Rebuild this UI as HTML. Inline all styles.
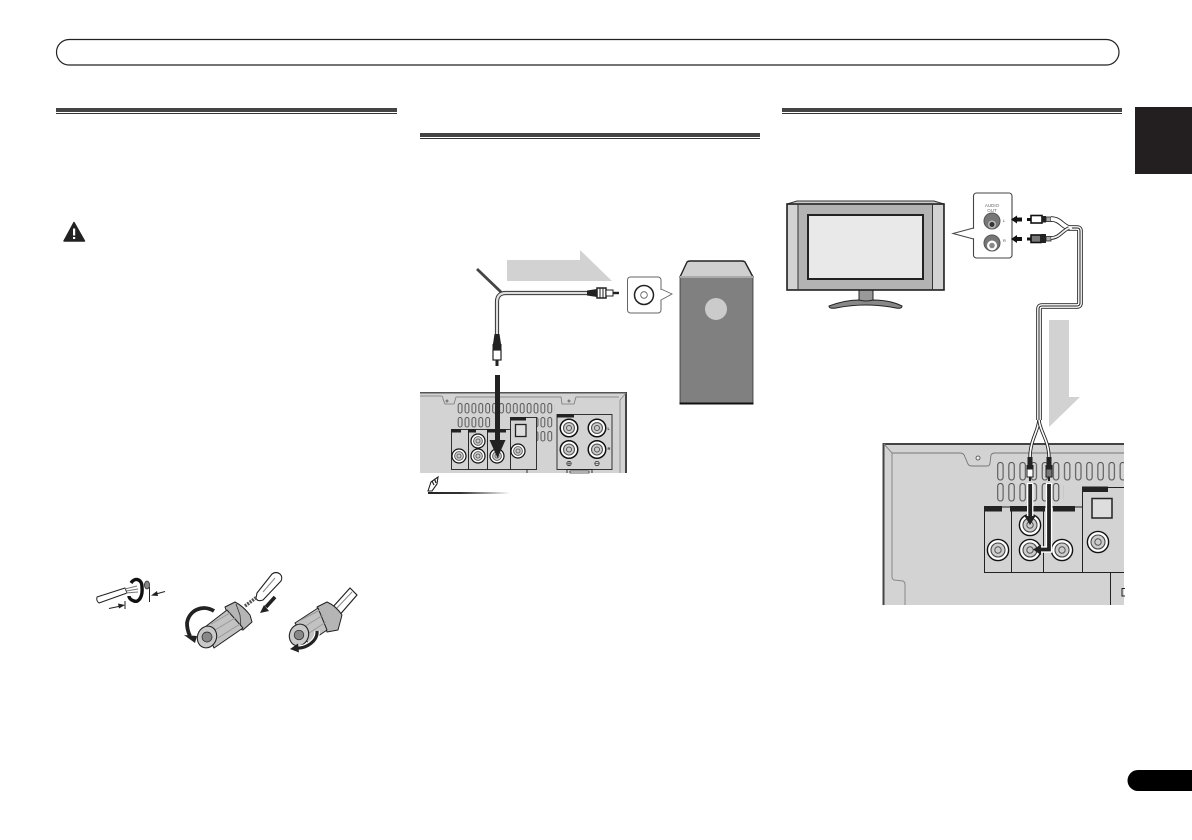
<!DOCTYPE html>
<html><head><meta charset="utf-8"><style>
html,body{margin:0;padding:0;background:#fff;width:1192px;height:840px;overflow:hidden}
svg{display:block}
text{font-family:"Liberation Sans",sans-serif}
</style></head><body>
<svg width="1192" height="840" viewBox="0 0 1192 840" xmlns="http://www.w3.org/2000/svg">
<defs>
<pattern id="s1" x="457.5" y="403" width="6.9" height="14" patternUnits="userSpaceOnUse"><rect x=".7" y=".5" width="3.8" height="9.5" rx="1.9" fill="none" stroke="#555" stroke-width="1"/></pattern>
<pattern id="s2" x="997" y="462" width="11.13" height="21" patternUnits="userSpaceOnUse"><rect x=".7" y=".5" width="5.4" height="17.5" rx="2.7" fill="none" stroke="#555" stroke-width="1.100"/></pattern>
<linearGradient id="g" x1="0" x2="1" y1="0" y2="0"><stop offset="0" stop-color="#222"/><stop offset=".4" stop-color="#333"/><stop offset="1" stop-color="#fff"/></linearGradient>
<g id="j"><circle r="7" fill="#fff" stroke="#111" stroke-width="1.200"/><circle r="4.400" fill="#ccc" stroke="#555" stroke-width=".9"/><circle r="2" fill="none" stroke="#555" stroke-width=".8"/></g>
<g id="J"><circle r="10.600" fill="#fff" stroke="#111" stroke-width="1.400"/><circle r="7" fill="#ccc" stroke="#444" stroke-width="1.100"/><circle r="3.200" fill="none" stroke="#555" stroke-width="1"/></g>
</defs>

<!-- header -->
<rect x="56.500" y="39.500" width="1062.500" height="25.500" rx="12.700" fill="#fff" stroke="#222" stroke-width="1.200"/>
<!-- section rules -->
<rect x="56" y="108" width="341" height="4" fill="#444"/><rect x="56" y="113" width="341" height="1" fill="#333"/>
<rect x="420" y="133" width="340" height="4" fill="#444"/><rect x="420" y="138" width="340" height="1" fill="#333"/>
<rect x="782" y="108" width="340" height="4" fill="#444"/><rect x="782" y="113" width="340" height="1" fill="#333"/>
<!-- side tab and page pill -->
<rect x="1135" y="107" width="57" height="67" fill="#231f20"/>
<path d="M1192 770H1138a10.500 10.500 0 0 0 0 21H1192Z" fill="#000"/>

<!-- warning -->
<path d="M74 222.500 L84.500 241 H64 Z" fill="#222" stroke="#222" stroke-width="1.400" stroke-linejoin="round"/>
<rect x="73" y="228.500" width="2.200" height="7" fill="#fff"/><rect x="73" y="237" width="2.200" height="2" fill="#fff"/>

<!-- MIDDLE: gray arrow -->
<polygon points="507,260 580,260 580,250 612,281 507,281" fill="#d2d2d2"/>
<!-- cable -->
<path d="M477 269 L502 293" stroke="#444" stroke-width="2.800"/>
<path d="M497 334 V302 Q497 293 506 293 H587" fill="none" stroke="#333" stroke-width="4.200"/>
<path d="M497 334 V302 Q497 293 506 293 H587" fill="none" stroke="#ddd" stroke-width="2.200"/>
<!-- right plug -->
<path d="M587 290.500 L597 289 V297 L587 295.500Z" fill="#222"/>
<rect x="597" y="288" width="9" height="10" fill="#fff" stroke="#222" stroke-width="1.500"/>
<path d="M600 288V298M603 288V298" stroke="#222"/>
<path d="M606 290 H613 V296 H606Z" fill="#fff" stroke="#222"/>
<path d="M613 293 H619" stroke="#222" stroke-width="2.400"/>
<!-- down plug -->
<path d="M494.500 334 L493 344 H501 L499.500 334Z" fill="#222"/>
<rect x="492.500" y="344" width="9" height="6" fill="#222"/>
<rect x="493" y="350" width="8" height="10" fill="#fff" stroke="#222" stroke-width="1.200"/>
<rect x="495.500" y="360" width="3" height="6" fill="#222"/>
<!-- connector box -->
<rect x="627.500" y="277" width="33.500" height="36" rx="3" fill="#fff" stroke="#666" stroke-width="1"/>
<circle cx="644" cy="295" r="9.500" fill="#fff" stroke="#222" stroke-width="1.500"/>
<circle cx="644" cy="295" r="3.300" fill="#fff" stroke="#555" stroke-width=".8"/>
<path d="M661 289 L672 294 L661 300" fill="#fff" stroke="#666" stroke-width=".9"/>
<rect x="660" y="290" width="1.500" height="9.500" fill="#fff"/>
<!-- speaker -->
<path d="M680 277 L687 262 Q688 261 690 261 H742 Q744 261 745 262 L753 277Z" fill="#cfcfcf" stroke="#222" stroke-width="1.400" stroke-linejoin="round"/>
<rect x="680" y="277" width="73" height="127" fill="#808080" stroke="#333" stroke-width=".8"/>
<rect x="680" y="276" width="73" height="2" fill="#aaa"/>
<rect x="679.500" y="402.500" width="74" height="2" fill="#111"/>
<circle cx="716" cy="309" r="11" fill="#cbcbcb"/>

<!-- middle panel -->
<rect x="420" y="392" width="207" height="81" fill="#d3d3d3"/>
<rect x="420" y="392" width="206" height="1.500" fill="#555"/>
<rect x="625" y="392" width="2" height="81" fill="#444"/>
<path d="M620 473 V400 L626 393" fill="none" stroke="#888" stroke-width=".8"/>
<path d="M420 396 H441 Q443 396 443 399 L445 404 H454 L456 397 H561 L562 404 L574 404 L576 397 H619" fill="none" stroke="#777" stroke-width=".8"/>
<circle cx="447" cy="401" r="1" fill="none" stroke="#555" stroke-width=".7"/>
<circle cx="569" cy="401" r="1" fill="none" stroke="#555" stroke-width=".7"/>
<rect x="457.500" y="403" width="96.600" height="11" fill="url(#s1)"/>
<rect x="457.500" y="417" width="34.500" height="11" fill="url(#s1)"/>
<rect x="533" y="417" width="21" height="11" fill="url(#s1)"/>
<rect x="533" y="431" width="21" height="11" fill="url(#s1)"/>
<g fill="#d3d3d3" stroke="#222" stroke-width=".9">
<rect x="451.500" y="429.500" width="17" height="40"/>
<rect x="468.500" y="429.500" width="19" height="40"/>
<rect x="487.500" y="429.500" width="23" height="40"/>
<rect x="510.500" y="417.500" width="26" height="52"/>
<rect x="557" y="414.500" width="55" height="55"/>
</g>
<g fill="#222">
<rect x="451" y="429" width="10" height="3.500"/><rect x="468" y="429" width="8" height="3.500"/><rect x="487" y="429" width="19" height="3.500"/>
<rect x="510" y="417" width="16" height="3.500"/><rect x="557" y="414" width="17" height="3.500"/>
</g>
<use href="#j" x="459" y="456"/><use href="#j" x="478" y="441"/><use href="#j" x="478" y="456"/>
<use href="#j" x="497" y="456"/><use href="#j" x="518" y="451"/>
<rect x="515.500" y="424.500" width="10.500" height="12" fill="#ddd" stroke="#222" stroke-width="1.300"/>
<g transform="translate(569,428) scale(1.250)"><use href="#j"/></g>
<g transform="translate(597,428) scale(1.250)"><use href="#j"/></g>
<g transform="translate(569,449.500) scale(1.250)"><use href="#j"/></g>
<g transform="translate(597,449.500) scale(1.250)"><use href="#j"/></g>
<circle cx="569" cy="463.500" r="2.200" fill="none" stroke="#333" stroke-width=".8"/><path d="M567 463.500h4M569 461.500v4" stroke="#333" stroke-width=".6"/>
<circle cx="597" cy="463.500" r="2.200" fill="none" stroke="#333" stroke-width=".8"/><path d="M595 463.500h4" stroke="#333" stroke-width=".6"/>
<text x="607.500" y="430" font-size="4" font-weight="bold" fill="#222">L</text>
<text x="607.500" y="450" font-size="4" font-weight="bold" fill="#222">R</text>
<path d="M527 469.500 V473 M567 473 V469.500 H592 V473" fill="none" stroke="#222" stroke-width=".9"/>
<rect x="570" y="471" width="19" height="2" fill="#fff" stroke="#222" stroke-width=".7"/>
<!-- middle arrow -->
<rect x="495" y="375" width="5" height="66" fill="#222"/>
<polygon points="489.500,440 505.500,440 497.500,458" fill="#222"/>
<!-- note icon -->
<path d="M428 491 L431 482 L438 477 L437 484 L432 491Z" fill="#fff" stroke="#222" stroke-width="1.100"/>
<path d="M432 481 l2 4 M434.500 479 l1.500 4" stroke="#222" stroke-width="1.200"/>
<rect x="428" y="492" width="82" height="2" fill="url(#g)"/>

<!-- TV -->
<polygon points="787,204 797,201 934,201 944,204" fill="#ccc" stroke="#333" stroke-width="1"/>
<path d="M859 290 V301 Q866 303 873 301 V290Z" fill="#999" stroke="#222" stroke-width="1"/>
<path d="M829 306 Q845 300 859 300 Q866 302 873 300 Q890 300 902 306 Q902 309 896 308 Q866 302 836 308 Q829 309 829 306Z" fill="#888" stroke="#222" stroke-width="1"/>
<rect x="787" y="204" width="157" height="86" fill="#b3b3b3" stroke="#222" stroke-width="1.600"/>
<rect x="788" y="205" width="10" height="84" fill="#d2d2d2"/><rect x="933" y="205" width="10" height="84" fill="#d2d2d2"/>
<path d="M798 204V290M932.500 204V290" stroke="#333" stroke-width="1"/>
<rect x="808" y="215" width="115" height="64" fill="#e9e9e9" stroke="#222" stroke-width="2"/>
<!-- TV connector box -->
<rect x="973.500" y="193" width="38.500" height="65" rx="3" fill="#fff" stroke="#444" stroke-width="1.100"/>
<path d="M973.500 228 L953 233.500 L973.500 239" fill="#fff" stroke="#444" stroke-width="1"/>
<rect x="973" y="229" width="1.500" height="9" fill="#fff"/>
<text x="992" y="207" font-size="4.500" text-anchor="middle" fill="#666">AUDIO</text>
<text x="992" y="212" font-size="4.500" text-anchor="middle" fill="#666">OUT</text>
<circle cx="992" cy="221" r="8" fill="#777" stroke="#555"/><circle cx="992" cy="224.500" r="4" fill="#bbb"/><circle cx="992" cy="224.500" r="2.500" fill="#333"/>
<circle cx="992" cy="243" r="8" fill="#777" stroke="#555"/><circle cx="992" cy="245.500" r="5" fill="#fff"/><circle cx="992" cy="245.500" r="2.800" fill="#888"/>
<text x="1003" y="222" font-size="4" fill="#444">L</text>
<text x="1003" y="242" font-size="4" fill="#444">R</text>
<!-- small arrows -->
<g fill="#111">
<polygon points="1011,219.500 1017,215.500 1017,217.500 1022,217.500 1022,221.500 1017,221.500 1017,223.500"/>
<polygon points="1011,239 1017,235 1017,237 1022,237 1022,241 1017,241 1017,243"/>
<rect x="1027" y="218" width="4" height="3"/><rect x="1027" y="237.500" width="4" height="3"/>
</g>
<!-- plugs -->
<rect x="1031" y="215.500" width="11" height="7.500" fill="#fff" stroke="#111" stroke-width="1.600"/>
<rect x="1042" y="216" width="4" height="6.500" fill="#222"/>
<rect x="1046" y="217" width="5" height="4.500" fill="#aaa" stroke="#222" stroke-width=".8"/>
<rect x="1031" y="235" width="10" height="7.500" fill="#777" stroke="#111" stroke-width="1.600"/>
<rect x="1041" y="234" width="5" height="9" fill="#222"/>
<rect x="1046" y="236.500" width="5" height="4.500" fill="#aaa" stroke="#222" stroke-width=".8"/>
<!-- gray arrow down -->
<polygon points="1049,320 1069,320 1069,397 1080,397 1049,427" fill="#d2d2d2"/>

<!-- right panel -->
<rect x="882.500" y="443" width="241.500" height="162" fill="#d3d3d3"/>
<rect x="882.500" y="443" width="241.500" height="2" fill="#444"/>
<rect x="882.500" y="443" width="2" height="162" fill="#444"/>
<path d="M884 444 L892 453 V577 Q892 579 894 580 L903 581 Q905 582 905 585 V605" fill="none" stroke="#888" stroke-width="1"/>
<path d="M892 453 H960 Q964 453 965 457 L968 464 Q969 466 972 466 H987 Q990 466 990 463 L991 455 Q992 453 995 453 H1124" fill="none" stroke="#777" stroke-width=".9"/>
<circle cx="978" cy="458" r="2" fill="#eee" stroke="#444" stroke-width=".8"/>
<rect x="997" y="462" width="127" height="19" fill="url(#s2)"/>
<rect x="997" y="483" width="66.800" height="19" fill="url(#s2)"/>
<g fill="#d3d3d3" stroke="#222" stroke-width="1">
<rect x="984.500" y="507" width="27" height="65.500"/>
<rect x="1011.500" y="507" width="32" height="65.500"/>
<rect x="1043.500" y="507" width="39" height="65.500"/>
<path d="M1124 487.500 H1082.500 V572.500 H1124"/>
</g>
<path d="M1082 572.500H1124" stroke="#222"/>
<path d="M1110.500 572.500V605" stroke="#222"/>
<g fill="#222">
<rect x="984" y="506" width="18" height="5.500"/><rect x="1010" y="506" width="35" height="5.500"/><rect x="1053" y="506" width="22" height="5.500"/>
<rect x="1082" y="486.500" width="26" height="5.500"/>
</g>
<rect x="1092" y="498.500" width="20" height="19.500" fill="#ddd" stroke="#222" stroke-width="1.500"/>
<path d="M1125 588.500H1122V596H1125" fill="none" stroke="#222" stroke-width="1"/>
<use href="#J" x="998" y="550"/><use href="#J" x="1030" y="525"/><use href="#J" x="1030" y="550"/>
<use href="#J" x="1062" y="550"/><use href="#J" x="1098" y="542"/>

<!-- long cable -->
<g fill="none" stroke-linejoin="round">
<path d="M1051 219 C1060 219 1062 226 1069 228 H1077 Q1080 228 1080 231 V303 Q1080 306 1077 306 H1042 Q1039 306 1039 309 V420" stroke="#222" stroke-width="5.600"/>
<path d="M1051 219 C1060 219 1062 226 1069 228 H1077 Q1080 228 1080 231 V303 Q1080 306 1077 306 H1042 Q1039 306 1039 309 V420" stroke="#fff" stroke-width="3.800"/>
<path d="M1072 228 H1077 Q1080 228 1080 231 V303 Q1080 306 1077 306 H1042 Q1039 306 1039 309 V420" stroke="#222" stroke-width="1"/>
<path d="M1051 238 C1059 238 1062 231 1069 228" stroke="#222" stroke-width="3.600"/>
<path d="M1051 238 C1059 238 1062 231 1069 228" stroke="#eee" stroke-width="1.800"/>
<path d="M1039 420 C1038 432 1030 440 1030 458" stroke="#222" stroke-width="3.400"/>
<path d="M1039 420 C1038 432 1030 440 1030 458" stroke="#fff" stroke-width="1.600"/>
<path d="M1039 420 C1040 432 1049 440 1049 458" stroke="#222" stroke-width="3.400"/>
<path d="M1039 420 C1040 432 1049 440 1049 458" stroke="#fff" stroke-width="1.600"/>
</g>
<!-- panel plugs -->
<rect x="1027.500" y="457" width="5" height="8" fill="#222"/>
<rect x="1026.500" y="465" width="7" height="4" fill="#222"/>
<rect x="1027" y="469" width="6" height="8" fill="#fff" stroke="#222"/>
<rect x="1029" y="477" width="2" height="4" fill="#222"/>
<rect x="1046.500" y="457" width="5" height="8" fill="#222"/>
<rect x="1045.500" y="465" width="7" height="4" fill="#222"/>
<rect x="1046" y="469" width="6" height="8" fill="#777" stroke="#222"/>
<rect x="1048" y="477" width="2" height="4" fill="#222"/>
<!-- panel arrows -->
<rect x="1027" y="483" width="6.400" height="33" fill="#fff"/>
<rect x="1028.300" y="484" width="3.800" height="33" fill="#222"/>
<polygon points="1024.500,516 1035.500,516 1030,525" fill="#222"/>
<path d="M1049 483 V549.500 H1039" fill="none" stroke="#fff" stroke-width="6.400"/>
<path d="M1049 484 V549.500 H1040" fill="none" stroke="#222" stroke-width="3.800"/>
<polygon points="1041,544.500 1041,555 1033,549.500" fill="#222"/>

<!-- bottom-left: stripped wire -->
<g stroke="#222" stroke-linejoin="round">
<path d="M97 597 L125 588 L127 593 L99 603 Q96 601 97 597Z" fill="#fff" stroke-width="1"/>
<path d="M125 589 L137 586 M126 591 L138 589 M126 593 L138 592" stroke="#777" stroke-width="1"/>
<path d="M131 583 C135 577 142 579 142 587 C143 596 139 603 134 601 C131 600 129 598 129 596" fill="none" stroke="#111" stroke-width="3.400"/>
<ellipse cx="147" cy="585" rx="2.500" ry="4" fill="#888" stroke-width=".8"/>
<path d="M149.500 587V602" stroke-width="1"/>
<path d="M125 601V609" stroke-width="1"/>
<path d="M109 608.500L121 606" stroke-width="1"/>
<path d="M165 591.500L156 594" stroke-width="1"/>
</g>
<polygon points="125,605 118,603.500 119,608.500" fill="#222"/>
<polygon points="151,595.500 157,591 158,596" fill="#222"/>

<!-- terminal 1 -->
<g stroke="#222" stroke-linejoin="round">
<path d="M257 593 L272 574 Q276 571 280 574 Q283 577 281 581 L263 600 Q257 602 256 598Z" fill="#fff" stroke-width="1.100"/>
<path d="M263 592 L275 578" stroke="#888" fill="none"/>
<path d="M245 606 L257 597" stroke="#555" stroke-width="3.500" stroke-dasharray="2 1"/>
<path d="M225 607 L235 602 Q243 606 250 615 L252 622 L243 630 L232 627Z" fill="#b5b5b5" stroke-width="1"/>
<path d="M236 604 L240 615 L241 628" fill="none" stroke-width=".7"/>
<path d="M205 627 L227 610 L243 628 L214 648 Z" fill="#c2c2c2" stroke-width="1"/>
<path d="M211 624L230 613M215 630L235 618M218 638L240 624" stroke="#999" stroke-width="1"/>
<ellipse cx="207" cy="637" rx="9.500" ry="11" fill="#c9c9c9" stroke-width="1.100" transform="rotate(20 207 637)"/>
<circle cx="207" cy="637" r="5" fill="#888" stroke-width=".7"/>
</g>
<path d="M214 611 C203 604 189 610 187 623 Q187 630 190 636" fill="none" stroke="#222" stroke-width="3.800"/>
<polygon points="184,635 197,636 195,643" fill="#222"/>
<polygon points="260,613 269,611 264,605" fill="#222"/>
<path d="M266 607L275 597" stroke="#222" stroke-width="3.600"/>

<!-- terminal 2 -->
<g stroke="#222" stroke-linejoin="round">
<path d="M332 608 L350 588 L357 595 L337 618Z" fill="#fff" stroke-width="1.200"/>
<path d="M336 609 L352 592" stroke="#888"/>
<path d="M317 607 L327 602 Q336 606 342 615 L338 630 L327 632Z" fill="#b5b5b5" stroke-width="1"/>
<path d="M295 623 L318 608 L327 630 L308 643 Z" fill="#c2c2c2" stroke-width="1"/>
<path d="M301 620L320 610M304 627L323 615M306 635L326 622" stroke="#999" stroke-width="1"/>
<ellipse cx="299" cy="635" rx="9.500" ry="11" fill="#c9c9c9" stroke-width="1.100" transform="rotate(20 299 635)"/>
<circle cx="299" cy="635" r="4.800" fill="#888" stroke-width=".7"/>
</g>
<path d="M317 631 C318 641 306 649 296 648" fill="none" stroke="#fff" stroke-width="5.500"/>
<path d="M317 631 C318 641 306 649 296 648" fill="none" stroke="#222" stroke-width="3.200"/>
<polygon points="290,649 298,643.500 299,652.500" fill="#222"/>
</svg>
</body></html>
